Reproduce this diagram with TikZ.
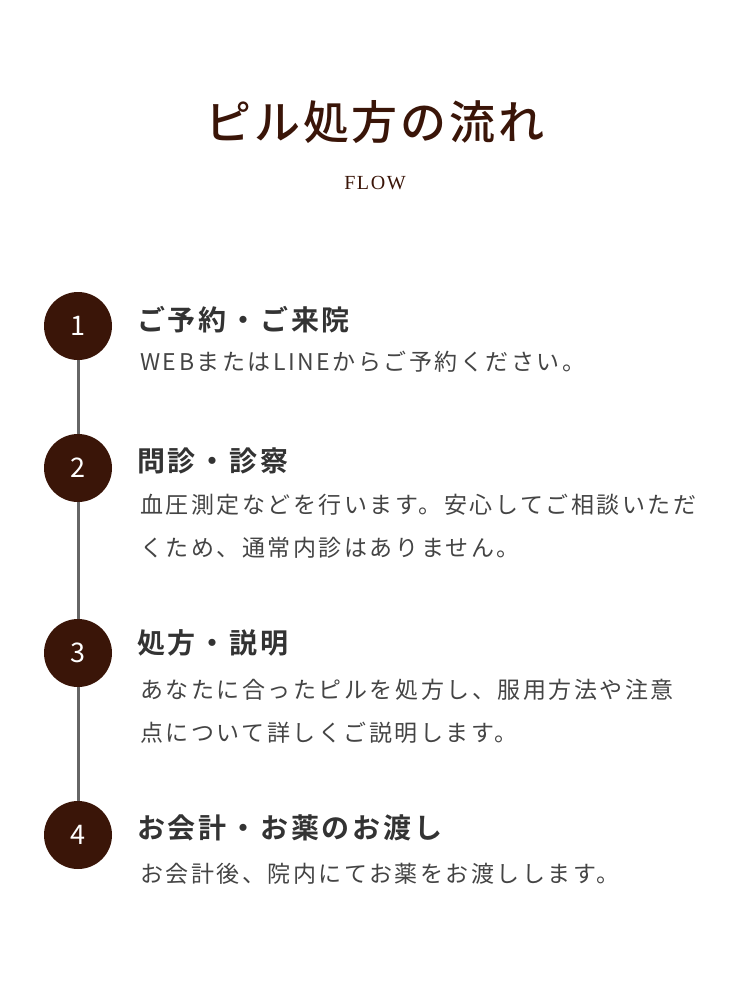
\documentclass[tikz,border=0pt]{standalone}
\usepackage{fontspec}
\newfontfamily\jp{Noto Sans CJK JP}
\newfontfamily\jpb{Noto Sans CJK JP Bold}[LetterSpace=10]
\newfontfamily\jpt{Noto Sans CJK JP Medium}[LetterSpace=6]
\newfontfamily\jpbody{Noto Sans CJK JP}[LetterSpace=11]
\newfontfamily\ser{Liberation Serif}[LetterSpace=8]
\definecolor{brn}{HTML}{3A1508}
\definecolor{txt}{HTML}{333333}
\definecolor{body}{HTML}{444444}
\begin{document}
\begin{tikzpicture}[x=1pt,y=-1pt,
  num/.style={circle,fill=brn,minimum size=68pt,inner sep=0pt,text=white,font=\jp\fontsize{27}{27}\selectfont},
  head/.style={anchor=west,inner sep=0pt,text=txt,font=\jpb\fontsize{28}{28}\selectfont},
  bodytxt/.style={anchor=west,inner sep=0pt,text=body,font=\jpbody\fontsize{23}{23}\selectfont}]
\useasboundingbox (0,0) rectangle (750,1005);
\node[text=brn,font=\jpt\fontsize{46}{46}\selectfont] (title) at (375,122) {ピル処方の流れ};
\node[text=brn,font=\ser\fontsize{20}{20}\selectfont] (flow) at (375,183) {FLOW};
\coordinate (top) at (78,326);
\coordinate (bot) at (78,835);
\draw[line width=3pt,color=gray!80!black] (top) -- (bot);
\node[num] (n1) at (78,326) {1};
\node[num] (n2) at (78,468) {2};
\node[num] (n3) at (78,653) {3};
\node[num] (n4) at (78,835) {4};
\node[head] (h1) at (137,320) {ご予約・ご来院};
\node[head] (h2) at (137,461) {問診・診察};
\node[head] (h3) at (137,643) {処方・説明};
\node[head] (h4) at (137,828) {お会計・お薬のお渡し};
\node[bodytxt] (b1) at (140,362) {WEBまたはLINEからご予約ください。};
\node[bodytxt] (b2) at (140,505) {血圧測定などを行います。安心してご相談いただ};
\node[bodytxt] (b2b) at (140,548) {くため、通常内診はありません。};
\node[bodytxt] (b3) at (140,690) {あなたに合ったピルを処方し、服用方法や注意};
\node[bodytxt] (b3b) at (140,733) {点について詳しくご説明します。};
\node[bodytxt] (b4) at (140,874) {お会計後、院内にてお薬をお渡しします。};
\end{tikzpicture}
\end{document}
